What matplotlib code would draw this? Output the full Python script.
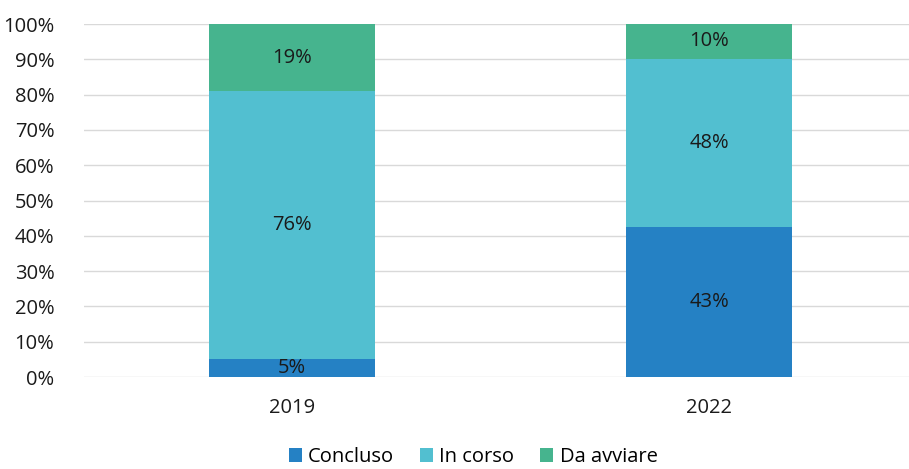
import matplotlib
matplotlib.use('Agg')
import matplotlib.pyplot as plt
import numpy as np

years = ['2019', '2022']
series_names = ['Concluso', 'In corso', 'Da avviare']
concluso = [5, 43]
in_corso = [76, 48]
da_avviare = [19, 10]
colors = ['#2581C4', '#52BFD0', '#46B48E']

plt.rcParams['font.family'] = ['Open Sans', 'DejaVu Sans']
fs = 14.5

data = np.array([concluso, in_corso, da_avviare], dtype=float)
shares = data / data.sum(axis=0) * 100

fig = plt.figure(figsize=(9.09, 4.69), dpi=100)
ax = fig.add_axes([83.5 / 909, 1 - 377 / 469, 834 / 909, 353 / 469])

x = np.arange(len(years))
bottom = np.zeros(len(years))
for k in range(len(series_names)):
    ax.bar(x, shares[k], 0.40, bottom=bottom, color=colors[k],
           label=series_names[k], zorder=3)
    for i in range(len(years)):
        ax.text(x[i], bottom[i] + shares[k][i] / 2, "{:d}%".format(int(data[k][i])),
                ha='center', va='center', fontsize=fs, color='#1a1a1a', zorder=4)
    bottom += shares[k]

ax.set_xlim(-0.5, 1.5)
ax.set_ylim(0, 100)
ax.set_yticks(np.arange(0, 101, 10))
ax.set_yticklabels(["{:d}%".format(v) for v in range(0, 101, 10)])
ax.set_xticks(x)
ax.set_xticklabels(years)
ax.tick_params(length=0, labelsize=fs, colors='#1a1a1a')
ax.tick_params(axis='x', pad=15)
ax.tick_params(axis='y', pad=21)
ax.grid(axis='y', color='#D9D9D9', linewidth=1, zorder=0)
for s in ax.spines.values():
    s.set_visible(False)

fig.legend(loc='center', bbox_to_anchor=(473 / 909, 1 - 457 / 469), ncol=3, frameon=False,
           fontsize=fs, handlelength=0.65, handleheight=0.65, handletextpad=0.3,
           columnspacing=1.3, borderpad=0.2)

plt.savefig('out.png', dpi=100)
